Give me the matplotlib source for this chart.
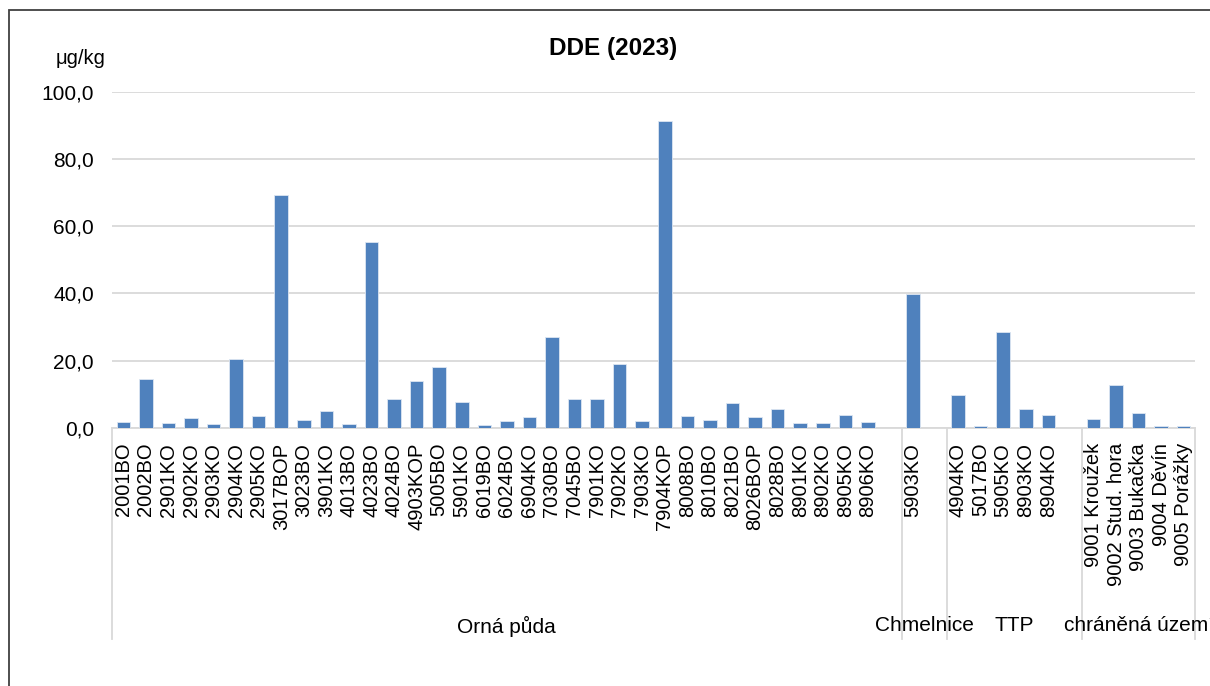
import matplotlib
matplotlib.use("Agg")
import matplotlib.pyplot as plt
from matplotlib.patches import Rectangle
from matplotlib.transforms import blended_transform_factory

plt.rcParams['font.family'] = ['Liberation Sans', 'DejaVu Sans']

# DDE content per site (µg/kg), split by land-use group
orna_sites = ['2001BO', '2002BO', '2901KO', '2902KO', '2903KO', '2904KO', '2905KO',
              '3017BOP', '3023BO', '3901KO', '4013BO', '4023BO', '4024BO', '4903KOP',
              '5005BO', '5901KO', '6019BO', '6024BO', '6904KO', '7030BO', '7045BO',
              '7901KO', '7902KO', '7903KO', '7904KOP', '8008BO', '8010BO', '8021BO',
              '8026BOP', '8028BO', '8901KO', '8902KO', '8905KO', '8906KO']
orna_dde = [1.7, 14.5, 1.4, 2.7, 1.1, 20.5, 3.5, 69.4, 2.3, 5.0, 1.1, 55.4, 8.4, 14.0,
            18.2, 7.7, 0.8, 1.8, 3.0, 27.0, 8.4, 8.6, 19.0, 1.9, 91.5, 3.5, 2.1, 7.2,
            3.1, 5.4, 1.4, 1.3, 3.7, 1.7]

chmel_sites = ['5903KO']
chmel_dde = [39.8]

ttp_sites = ['4904KO', '5017BO', '5905KO', '8903KO', '8904KO']
ttp_dde = [9.7, 0.4, 28.4, 5.4, 3.8]

chu_sites = ['9001 Kroužek', '9002 Stud. hora', '9003 Bukačka', '9004 Děvín', '9005 Porážky']
chu_dde = [2.4, 12.8, 4.4, 0.6, 0.4]

group_names = ['Orná půda', 'Chmelnice', 'TTP', 'chráněná území']
y_ticks = [0, 20, 40, 60, 80, 100]

# each group except the last gets one empty slot at its end
groups = [(orna_sites, orna_dde, 1), (chmel_sites, chmel_dde, 1),
          (ttp_sites, ttp_dde, 1), (chu_sites, chu_dde, 0)]
labels, values, bounds = [], [], [0]
for sites, vals, gap in groups:
    labels += sites + [''] * gap
    values += vals + [0] * gap
    bounds.append(len(labels))
xs = list(range(len(labels)))

fig = plt.figure(figsize=(12.1, 6.86), dpi=100)
ax = fig.add_axes([0.0926, 0.3768, 0.895, 0.4884])

ax.bar([x + 0.5 for x in xs], values, width=0.6, color='#4F81BD',
       edgecolor='#DCE6F2', linewidth=0.6, zorder=3)

ax.set_xlim(0, len(labels))
ax.set_ylim(0, 100)
ax.set_yticks(y_ticks)
ax.set_yticklabels([f'{v:.1f}'.replace('.', ',') for v in y_ticks])
ax.set_xticks([x + 0.5 for x in xs])
ax.set_xticklabels(labels, rotation=90)
ax.tick_params(axis='both', length=0, colors='black')
ax.tick_params(axis='x', pad=11, labelsize=14.5)
ax.tick_params(axis='y', pad=13, labelsize=15)
ax.yaxis.grid(True, color='#D9D9D9', linewidth=1.3, zorder=0)
ax.set_axisbelow(True)
for side in ['top', 'right', 'left']:
    ax.spines[side].set_visible(False)
ax.spines['bottom'].set_color('#D9D9D9')
ax.spines['bottom'].set_linewidth(1.3)

# group separators under the axis and the group names
trans = blended_transform_factory(ax.transData, fig.transFigure)
for b in bounds:
    ax.plot([b, b], [0.3768, 0.068], color='#D9D9D9', linewidth=1.3,
            transform=trans, clip_on=False)
for name, lo, hi in zip(group_names, bounds[:-1], bounds[1:]):
    ax.text((lo + hi) / 2, 0.0875, name, transform=trans, ha='center', va='center',
            fontsize=15, clip_on=False)

fig.text(0.507, 0.930, 'DDE (2023)', ha='center', va='center',
         fontsize=17.5, fontweight='bold')
fig.text(0.087, 0.915, 'μg/kg', ha='right', va='center', fontsize=14.5)

# chart frame
fig.patches.append(Rectangle((9 / 1210, -0.1), 1.2, (686 - 10) / 686 + 0.1,
                             transform=fig.transFigure, fill=False,
                             edgecolor='#404040', linewidth=1.3))

fig.savefig('out.png', dpi=100, facecolor='white')
